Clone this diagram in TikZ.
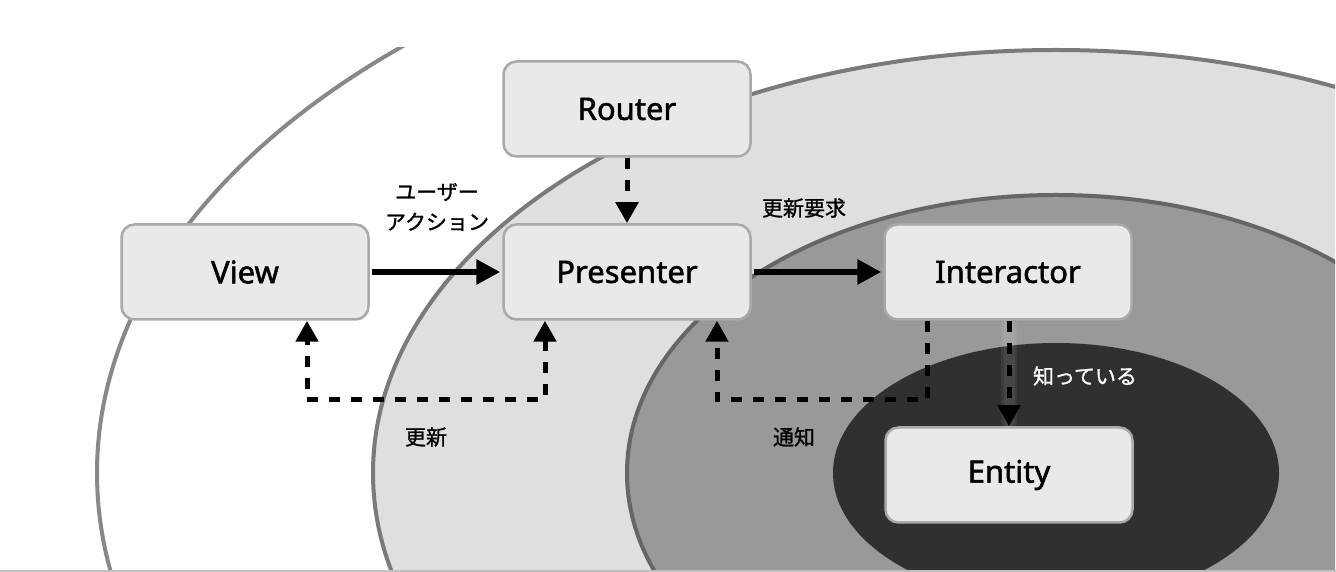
\documentclass[tikz,border=0pt]{standalone}
\usepackage{fontspec}
\setmainfont{Noto Sans}[BoldFont={Noto Sans},BoldFeatures={FakeBold=1.6}]
\newfontfamily\jpfont{Noto Sans CJK JP}[BoldFont={Noto Sans CJK JP},BoldFeatures={FakeBold=1.2}]
\usetikzlibrary{arrows.meta}
\definecolor{boxfill}{HTML}{E9E9E9}
\definecolor{boxline}{HTML}{A9A9A9}
\definecolor{ringout}{HTML}{888888}
\definecolor{ringlight}{HTML}{DFDEE0}
\definecolor{ringlightline}{HTML}{7A7A7A}
\definecolor{ringmid}{HTML}{999999}
\definecolor{ringmidline}{HTML}{666666}
\definecolor{ringcore}{HTML}{303030}

\begin{document}
\begin{tikzpicture}[line join=miter,>={Triangle[length=24pt,width=24pt]},x=1pt,y=1pt,
	layerbox/.style={draw=boxline,line width=2.5pt,fill=boxfill,rounded corners=13pt,
		minimum width=247pt,minimum height=95pt,font=\bfseries\fontsize{31}{36}\selectfont},
	solidarrow/.style={->,line width=6pt},
	dasharrow/.style={line width=5pt,dash pattern=on 11pt off 11pt,
		>={Triangle[length=21pt,width=22pt]}},
	knowglow/.style={white,opacity=0.06,line cap=round},
	jplabel/.style={font=\jpfont\bfseries\fontsize{21}{30}\selectfont,align=center}]

		\useasboundingbox (0,0) rectangle (1336,572);

		%kehät
		\begin{scope}
		\clip (0,1) rectangle (1335,524);
		\draw[fill=white,draw=ringout,line width=4pt] (1056,99) ellipse [x radius=959,y radius=583];
		\draw[fill=ringlight,draw=ringlightline,line width=4pt] (1056,99) ellipse [x radius=683,y radius=423];
		\draw[fill=ringmid,draw=ringmidline,line width=4pt] (1056,99) ellipse [x radius=429,y radius=278];
		\fill[ringcore] (1056,99) ellipse [x radius=223,y radius=130];
		\end{scope}
		\draw[color=lightgray,line width=1.5pt] (0,1) -- (1336,1);

		%laatikot
		\node[layerbox] (router) at (627,463) {Router};
		\node[layerbox] (view) at (245,300) {View};
		\node[layerbox] (presenter) at (627,300) {Presenter};
		\node[layerbox] (interactor) at (1008,300) {Interactor};
		\node[layerbox] (entity) at (1009,97) {Entity};

		%nuolet
		\draw[solidarrow,shorten <=2pt,shorten >=2pt] (view) -- (presenter);
		\draw[solidarrow,shorten <=2pt,shorten >=2pt] (presenter) -- (interactor);
		\draw[dasharrow,->] (router) -- (presenter);
		\draw[dasharrow,<->] ([xshift=-82pt]presenter.south) -- ++(0,-79) -| ([xshift=62pt]view.south);
		\draw[dasharrow,->] ([xshift=-81pt]interactor.south) -- ++(0,-79) -| ([xshift=90pt]presenter.south);
		\draw[knowglow,line width=16pt] ([xshift=1pt,yshift=-6pt]interactor.south) -- ([yshift=4pt]entity.north);
		\draw[knowglow,line width=11pt] ([xshift=1pt,yshift=-6pt]interactor.south) -- ([yshift=4pt]entity.north);
		\draw[dasharrow,->] ([xshift=1pt]interactor.south) -- (entity.north);

		%tekstit
		\node[jplabel] (useraction) at (437,365) {ユーザー\\アクション};
		\node[jplabel] (updatereq) at (804,364) {更新要求};
		\node[jplabel] (update) at (426,135) {更新};
		\node[jplabel] (notify) at (794,135) {通知};
		\node[jplabel,text=white] (knows) at (1085,196) {知っている};

	\end{tikzpicture}
\end{document}
